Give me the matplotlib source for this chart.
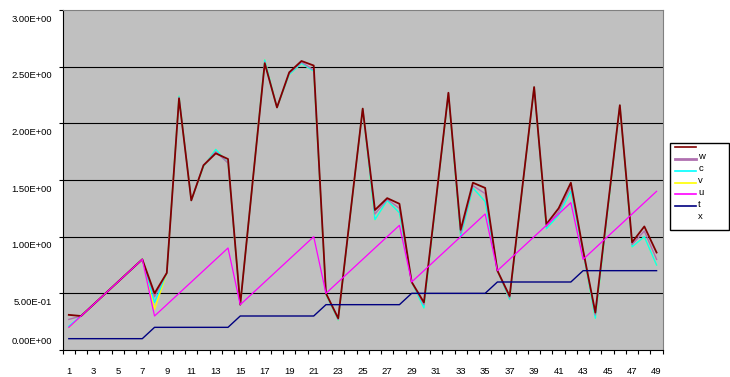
import numpy as np
import matplotlib
matplotlib.use("Agg")
import matplotlib.pyplot as plt
from matplotlib.lines import Line2D
from matplotlib.legend_handler import HandlerLine2D
from matplotlib.transforms import ScaledTranslation

plt.rcParams['font.family'] = ['Liberation Sans', 'DejaVu Sans']

# data
n = list(range(1, 50))
w = [0.31, 0.30, 0.40, 0.50, 0.60, 0.70, 0.80, 0.50, 0.68, 2.22,
     1.32, 1.63, 1.735, 1.685, 0.40, 1.47, 2.53, 2.14, 2.45, 2.55,
     2.51, 0.50, 0.28, 1.21, 2.13, 1.235, 1.34, 1.29, 0.60, 0.42,
     1.34, 2.27, 1.06, 1.476, 1.43, 0.70, 0.476, 1.40, 2.32, 1.11,
     1.25, 1.476, 0.88, 0.33, 1.25, 2.16, 0.95, 1.09, 0.86]
c = [0.27, 0.30, 0.40, 0.50, 0.60, 0.70, 0.80, 0.47, 0.68, 2.23,
     1.32, 1.63, 1.75, 1.65, 0.40, 1.47, 2.54, 2.14, 2.44, 2.54,
     2.47, 0.50, 0.27, 1.21, 2.13, 1.20, 1.33, 1.25, 0.60, 0.40,
     1.33, 2.27, 1.03, 1.45, 1.38, 0.70, 0.46, 1.40, 2.32, 1.09,
     1.22, 1.44, 0.87, 0.31, 1.24, 2.16, 0.93, 1.05, 0.80]
v = [0.21, 0.30, 0.40, 0.50, 0.60, 0.70, 0.80, 0.42, 0.68, 2.24,
     1.32, 1.62, 1.77, 1.65, 0.40, 1.47, 2.56, 2.14, 2.43, 2.53,
     2.46, 0.49, 0.265, 1.20, 2.13, 1.15, 1.32, 1.21, 0.60, 0.37,
     1.32, 2.26, 1.00, 1.43, 1.31, 0.70, 0.447, 1.39, 2.32, 1.07,
     1.19, 1.40, 0.86, 0.28, 1.22, 2.16, 0.91, 1.00, 0.75]
u = [0.20, 0.30, 0.40, 0.50, 0.60, 0.70, 0.80, 0.36, 0.68, 2.24,
     1.32, 1.62, 1.77, 1.65, 0.40, 1.47, 2.56, 2.14, 2.43, 2.53,
     2.46, 0.49, 0.265, 1.20, 2.13, 1.15, 1.32, 1.21, 0.60, 0.37,
     1.32, 2.26, 1.00, 1.43, 1.31, 0.70, 0.447, 1.39, 2.32, 1.07,
     1.19, 1.40, 0.86, 0.28, 1.22, 2.16, 0.91, 1.00, 0.75]
t = [0.2, 0.3, 0.4, 0.5, 0.6, 0.7, 0.8,
     0.3, 0.4, 0.5, 0.6, 0.7, 0.8, 0.9,
     0.4, 0.5, 0.6, 0.7, 0.8, 0.9, 1.0,
     0.5, 0.6, 0.7, 0.8, 0.9, 1.0, 1.1,
     0.6, 0.7, 0.8, 0.9, 1.0, 1.1, 1.2,
     0.7, 0.8, 0.9, 1.0, 1.1, 1.2, 1.3,
     0.8, 0.9, 1.0, 1.1, 1.2, 1.3, 1.4]
x = [0.1] * 7 + [0.2] * 7 + [0.3] * 7 + [0.4] * 7 + [0.5] * 7 + [0.6] * 7 + [0.7] * 7

labels = ['w', 'c', 'v', 'u', 't', 'x']
colors = ['#800000', '#B070B0', '#00FFFF', '#FFFF00', '#FF00FF', '#000080']

fig = plt.figure(figsize=(7.3, 3.77), dpi=100)
ax = fig.add_axes([62.7 / 730, 27 / 377, 600 / 730, 340 / 377])
ax.set_facecolor('#C0C0C0')

# draw so that w ends up on top, like the original
ax.plot(n, u, color=colors[3], lw=1.0, zorder=2)
ax.plot(n, v, color=colors[2], lw=1.0, zorder=3)
ax.plot(n, c, color=colors[1], lw=1.0, zorder=4)
ax.plot(n, w, color=colors[0], lw=1.3, zorder=5)
ax.plot(n, t, color=colors[4], lw=0.9, zorder=6)
ax.plot(n, x, color=colors[5], lw=1.0, zorder=7)

ax.set_xlim(0.5, 49.5)
ax.set_ylim(0, 3.0)
ax.set_yticks(np.arange(0, 3.01, 0.5))
ax.set_yticklabels([f"{val:.2E}" for val in np.arange(0, 3.01, 0.5)])
for val in np.arange(0.5, 2.99, 0.5):
    ax.axhline(val, color='black', lw=0.8, zorder=1)

ax.set_xticks(range(1, 50, 2))
ax.set_xticks(np.arange(0.5, 50, 1), minor=True)
ax.tick_params(axis='x', which='major', length=0, pad=12, labelsize=6.8)
ax.tick_params(axis='x', which='minor', length=2.9, width=0.8, color='black')
ax.tick_params(axis='y', length=2.9, width=0.8, pad=4.8, labelsize=6.8)

for side in ['top', 'right']:
    ax.spines[side].set_color('#808080')
for side in ['left', 'bottom']:
    ax.spines[side].set_color('black')

# Excel put the value labels slightly off their gridlines
for lbl in ax.get_yticklabels():
    dy = 10 if lbl.get_text() == '0.00E+00' else -8
    lbl.set_transform(lbl.get_transform() + ScaledTranslation(0, dy / 100, fig.dpi_scale_trans))


class RaisedLine(HandlerLine2D):
    # legend sample sits above its label, and starts a bit further left
    def create_artists(self, legend, orig_handle, xdescent, ydescent, width, height, fontsize, trans):
        return super().create_artists(legend, orig_handle, xdescent + 3.2, ydescent - 13,
                                      width + 3.2, height, fontsize, trans)


handles = [Line2D([], [], color=col, lw=2.0 if lab == 'c' else 1.2) for lab, col in zip(labels, colors)]
leg = fig.legend(handles, labels, loc='upper left', mode='expand',
                 bbox_to_anchor=(670 / 730, 1 - 229 / 377, 59 / 730, 86 / 377),
                 fontsize=6.8, frameon=True, fancybox=False, edgecolor='black',
                 framealpha=1, handlelength=1.78, handletextpad=0.2, labelspacing=0.3,
                 borderpad=1.0, borderaxespad=0, handler_map={Line2D: RaisedLine()})
leg.get_frame().set_linewidth(1.0)

fig.savefig('out.png', dpi=100)
